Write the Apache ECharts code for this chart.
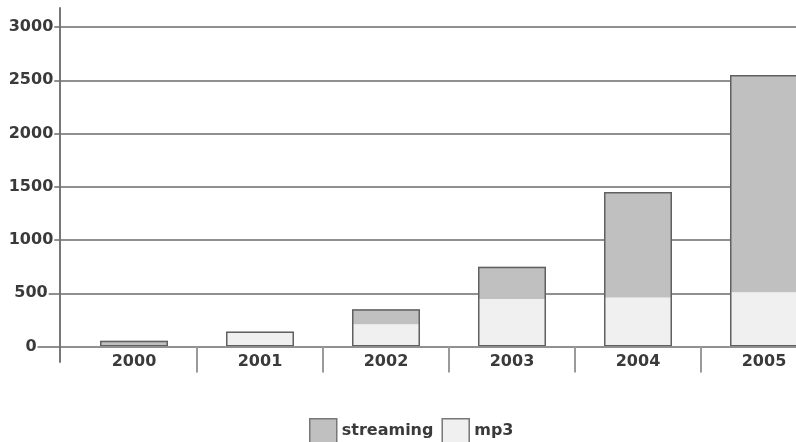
<!DOCTYPE html>
<html>
<head>
<meta charset="utf-8">
<script src="https://cdn.jsdelivr.net/npm/echarts@6/dist/echarts.min.js"></script>
<style>html,body{margin:0;padding:0;background:#fff}#c{width:796px;height:442px}</style>
</head>
<body>
<div id="c"></div>
<script>
var years = ['2000', '2001', '2002', '2003', '2004', '2005'];
var mp3 = [15, 140, 210, 445, 460, 510];
var streaming = [40, 0, 140, 305, 990, 2040];
var yTicks = [0, 500, 1000, 1500, 2000, 2500, 3000];

var totals = years.map(function (_, i) { return mp3[i] + streaming[i]; });
var font = 'DejaVu Sans';
var textColor = '#3a3a3a';
var chart = echarts.init(document.getElementById('c'));
chart.setOption({
  animation: false,
  backgroundColor: '#fff',
  grid: [
    { left: 60, width: 767, top: 27, bottom: 95.5, outerBoundsMode: 'none', containLabel: false },
    { left: 71, width: 756, top: 27, bottom: 95.5, outerBoundsMode: 'none', containLabel: false },
    { left: 60, width: 10, top: 8, bottom: 80, outerBoundsMode: 'none', containLabel: false }
  ],
  xAxis: [
    { gridIndex: 0, type: 'value', show: false },
    {
      gridIndex: 1, type: 'category', data: years,
      axisLine: { show: false },
      axisTick: { show: true, length: 26, lineStyle: { color: '#9a9a9a', width: 2 },
        interval: function (i) { return i !== 0; } },
      axisLabel: { margin: 7, color: textColor, fontFamily: font, fontSize: 16, fontWeight: 'bold' }
    },
    { gridIndex: 2, type: 'value', show: false }
  ],
  yAxis: [
    {
      gridIndex: 0, type: 'value', min: yTicks[0], max: yTicks[yTicks.length - 1], interval: 500,
      axisLine: { show: false },
      axisTick: { show: true, length: 30, lineStyle: { color: '#6b6b6b', width: 1.5 } },
      splitLine: { show: true, lineStyle: { color: '#6b6b6b', width: 1.5 } },
      axisLabel: { margin: 29, align: 'center', color: textColor, fontFamily: font, fontSize: 16,
        fontWeight: 'bold', backgroundColor: '#fff', padding: [0, 1],
        formatter: function (v) { return String(v); } }
    },
    { gridIndex: 1, type: 'value', min: yTicks[0], max: yTicks[yTicks.length - 1], show: false },
    {
      gridIndex: 2, type: 'value', min: 0, max: 1,
      axisLine: { show: true, lineStyle: { color: '#777', width: 2 } },
      axisTick: { show: false }, axisLabel: { show: false }, splitLine: { show: false }
    }
  ],
  legend: {
    top: 418, left: 309, icon: 'rect', padding: 0,
    itemWidth: 27, itemHeight: 24, itemGap: 8,
    textStyle: { fontFamily: font, fontSize: 16, fontWeight: 'bold', color: textColor },
    data: [
      { name: 'streaming', itemStyle: { color: '#c0c0c0', borderColor: '#777', borderWidth: 1.5 } },
      { name: 'mp3', itemStyle: { color: '#f0f0f0', borderColor: '#777', borderWidth: 1.5 } }
    ]
  },
  series: [
    { name: 'mp3', type: 'bar', stack: 's', xAxisIndex: 1, yAxisIndex: 1, barWidth: 68,
      data: mp3, itemStyle: { color: '#f0f0f0' } },
    { name: 'streaming', type: 'bar', stack: 's', xAxisIndex: 1, yAxisIndex: 1, barWidth: 68,
      data: streaming, itemStyle: { color: '#c0c0c0' } },
    { name: 'outline', type: 'bar', xAxisIndex: 1, yAxisIndex: 1, barWidth: 68, barGap: '-100%',
      silent: true, data: totals,
      itemStyle: { color: 'rgba(0,0,0,0)', borderColor: '#606060', borderWidth: 1.5 } }
  ]
});
</script>
</body>
</html>
